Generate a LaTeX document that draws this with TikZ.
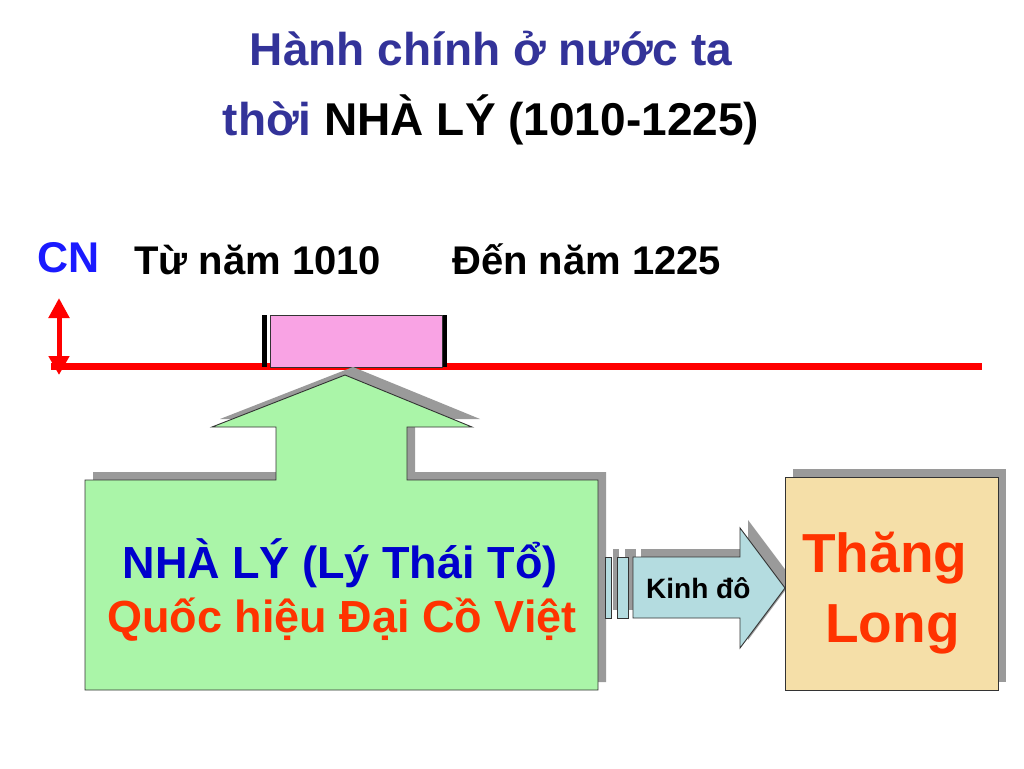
\documentclass[tikz,border=0pt]{standalone}
\usepackage{fontspec}
\setmainfont{Liberation Sans}
\usetikzlibrary{arrows.meta}
\definecolor{titleblue}{HTML}{333399}
\definecolor{cnblue}{HTML}{1A1AFF}
\definecolor{boxblue}{HTML}{0000CC}
\definecolor{redorange}{HTML}{FF3300}
\definecolor{pinkfill}{HTML}{F9A3E4}
\definecolor{greenfill}{HTML}{AAF5A8}
\definecolor{wheatfill}{HTML}{F5DFA8}
\definecolor{bluefill}{HTML}{B4DCE0}
\definecolor{shadowgray}{HTML}{9A9A9A}
\definecolor{linered}{HTML}{FF0000}
\tikzset{
  shade/.style={fill=shadowgray, shift={(8,-8)}},
  outline/.style={draw=black!80, line width=0.9},
  txt/.style={font=\bfseries, inner sep=0pt, anchor=base},
}
\begin{document}
\begin{tikzpicture}[x=1pt,y=-1pt]
\useasboundingbox[fill=white] (0,0) rectangle (1024,768);

% title
\node[txt, text=titleblue, font=\bfseries\fontsize{46}{50}\selectfont] (t1) at (491,66) {Hành chính ở nước ta};
\node[txt, font=\bfseries\fontsize{46}{50}\selectfont] (t2) at (491,135) {\textcolor{titleblue}{thời}\ NHÀ LÝ (1010-1225)};

% labels above timeline
\node[txt, anchor=base west, text=cnblue, font=\bfseries\fontsize{43}{46}\selectfont] (cn) at (37,272) {CN};
\node[txt, anchor=base west, font=\bfseries\fontsize{40}{44}\selectfont] (from) at (134,274) {Từ năm 1010};
\node[txt, anchor=base west, font=\bfseries\fontsize{40}{44}\selectfont] (to) at (452,274) {Đến năm 1225};

% timeline
\draw[linered, line width=6.5] (51,366.5) -- (982,366.5);
\coordinate (vtop) at (59,298);
\coordinate (vbot) at (59,375);
\draw[linered, line width=5, {Triangle[width=20,length=20]}-{Triangle[width=20,length=19]}] (vtop) -- (vbot);

% period box
\fill[black] (261.7,315) rectangle (267.3,367);
\fill[black] (442,315) rectangle (446.7,367);
\node[draw=black!80, line width=0.9, fill=pinkfill, minimum width=172, minimum height=52, inner sep=0pt] (period) at (356.7,341) {};

% green house arrow
\def\housepath{(85,480) -- (276,480) -- (276,427) -- (212,427) -- (345,375) -- (472,427) -- (407,427) -- (407,480) -- (598,480) -- (598,690) -- (85,690) -- cycle}
\fill[shade] \housepath;
\filldraw[outline, fill=greenfill] \housepath;
\node[txt, text=boxblue, font=\bfseries\fontsize{45}{48}\selectfont] (ly) at (340,578) {NHÀ LÝ (Lý Thái Tổ)};
\node[txt, text=redorange, font=\bfseries\fontsize{45}{48}\selectfont] (qh) at (342,632) {Quốc hiệu Đại Cồ Việt};

% Kinh do striped arrow
\def\arrowpath{(633,557) -- (740,557) -- (740,528) -- (785,588) -- (740,648) -- (740,618) -- (633,618) -- cycle}
\fill[shade] \arrowpath;
\fill[shade] (605,557) rectangle (611,618);
\fill[shade] (617,557) rectangle (628,618);
\filldraw[outline, fill=bluefill] \arrowpath;
\filldraw[outline, fill=bluefill] (605,557) rectangle (611,618);
\filldraw[outline, fill=bluefill] (617,557) rectangle (628,618);
\node[txt, anchor=base west, font=\bfseries\fontsize{28}{30}\selectfont] (kd) at (646,598) {Kinh đô};

% Thang Long box
\fill[shade] (785,477) rectangle (998,690);
\filldraw[outline, fill=wheatfill] (785,477) rectangle (998,690);
\node[txt, anchor=base west, text=redorange, font=\bfseries\fontsize{55}{60}\selectfont] (th) at (802,572) {Thăng};
\node[txt, anchor=base west, text=redorange, font=\bfseries\fontsize{55}{60}\selectfont] (lg) at (825,642) {Long};
\end{tikzpicture}
\end{document}
